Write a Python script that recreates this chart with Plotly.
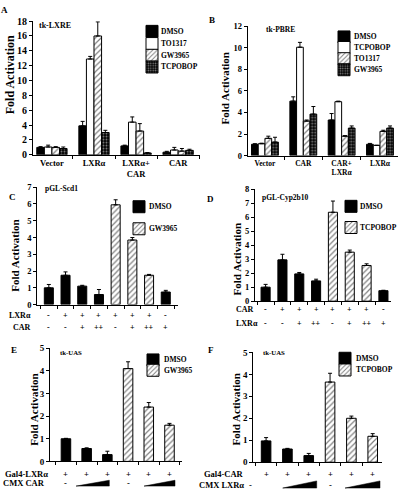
import plotly.graph_objects as go

W, H = 400, 496
SERIF = "Liberation Serif, Times New Roman, serif"

# ---------------- data ----------------
a_groups = ["Vector", "LXRα", "LXRα+<br>CAR", "CAR"]
a_dmso = [1.0, 3.9, 1.2, 0.35]
a_dmso_err = [0.1, 0.6, 0.1, 0.12]
a_to1317 = [1.05, 12.9, 4.4, 0.65]
a_to1317_err = [0.25, 0.35, 0.7, 0.35]
a_gw3965 = [1.0, 16.0, 3.2, 0.5]
a_gw3965_err = [0.1, 1.9, 1.0, 0.35]
a_tcpobop = [0.85, 3.0, 0.25, 0.6]
a_tcpobop_err = [0.2, 0.3, 0.05, 0.15]

b_groups = ["Vector", "CAR", "CAR+<br>LXRα", "LXRα"]
b_dmso = [1.05, 5.05, 3.3, 1.05]
b_dmso_err = [0.05, 0.4, 0.6, 0.08]
b_tcpobop = [1.1, 10.05, 5.0, 0.95]
b_tcpobop_err = [0.05, 0.45, 0.05, 0.0]
b_to1317 = [1.6, 3.2, 1.8, 2.25]
b_to1317_err = [0.2, 0.1, 0.05, 0.1]
b_gw3965 = [1.25, 3.85, 2.55, 2.55]
b_gw3965_err = [0.45, 0.7, 0.2, 0.2]

c_lanes = ["c1", "c2", "c3", "c4", "c5", "c6", "c7", "c8"]
c_dmso = [1.0, 1.75, 1.1, 0.6, None, None, None, 0.75]
c_dmso_err = [0.2, 0.2, 0.05, 0.3, 0, 0, 0, 0.1]
c_gw3965 = [None, None, None, None, 5.95, 3.85, 1.75, None]
c_gw3965_err = [0, 0, 0, 0, 0.3, 0.15, 0.05, 0]
c_row_lxr = ["-", "+", "+", "+", "+", "+", "+", "-"]
c_row_car = ["-", "-", "+", "++", "-", "+", "++", "+"]

d_lanes = ["d1", "d2", "d3", "d4", "d5", "d6", "d7", "d8"]
d_dmso = [1.0, 2.95, 1.95, 1.45, None, None, None, 0.75]
d_dmso_err = [0.2, 0.4, 0.1, 0.12, 0, 0, 0, 0.03]
d_tcpobop = [None, None, None, None, 6.35, 3.5, 2.55, None]
d_tcpobop_err = [0, 0, 0, 0, 0.8, 0.15, 0.12, 0]
d_row_car = ["-", "+", "+", "+", "+", "+", "+", "-"]
d_row_lxr = ["-", "-", "+", "++", "-", "+", "++", "+"]

e_lanes = ["e1", "e2", "e3", "e4", "e5", "e6"]
e_dmso = [1.0, 0.57, 0.3, None, None, None]
e_dmso_err = [0.02, 0.03, 0.15, 0, 0, 0]
e_gw3965 = [None, None, None, 4.1, 2.4, 1.6]
e_gw3965_err = [0, 0, 0, 0.3, 0.2, 0.08]
e_row_gal4 = ["+", "+", "+", "+", "+", "+"]

f_lanes = ["f1", "f2", "f3", "f4", "f5", "f6"]
f_dmso = [0.97, 0.6, 0.3, None, None, None]
f_dmso_err = [0.15, 0.03, 0.1, 0, 0, 0]
f_tcpobop = [None, None, None, 3.65, 2.0, 1.18]
f_tcpobop_err = [0, 0, 0, 0.4, 0.1, 0.12]
f_row_gal4 = ["+", "+", "+", "+", "+", "+"]

# ---------------- styles ----------------
LINE = dict(color="black", width=1)
SOLID = dict(color="black", line=LINE)
OPEN = dict(color="white", line=LINE)
HATCH = dict(color="white", line=LINE,
             pattern=dict(shape="/", fgcolor="black", bgcolor="white", size=4, solidity=0.3))
DOTS = dict(color="black", line=LINE,
            pattern=dict(shape=".", fgcolor="white", bgcolor="black", size=3, solidity=0.35))

fig = go.Figure()


def bars(x, y, err, xa, ya, marker, offset, width, legend):
    fig.add_trace(go.Bar(
        x=x, y=y, xaxis=xa, yaxis=ya, marker=marker, offset=offset, width=width,
        error_y=dict(type="data", array=err, arrayminus=[0] * len(err), symmetric=False,
                     color="black", thickness=1, width=2),
        name="", showlegend=True, legend=legend, hoverinfo="skip"))


# Panel A
wA = 0.18
for i, (v, e, m) in enumerate([(a_dmso, a_dmso_err, SOLID), (a_to1317, a_to1317_err, OPEN),
                               (a_gw3965, a_gw3965_err, HATCH), (a_tcpobop, a_tcpobop_err, DOTS)]):
    bars(a_groups, v, e, "x", "y", m, -2 * wA + i * wA, wA, "legend" if i == 0 else f"legend{i + 1}")
# Panel B
wB = 0.175
for i, (v, e, m) in enumerate([(b_dmso, b_dmso_err, SOLID), (b_tcpobop, b_tcpobop_err, OPEN),
                               (b_to1317, b_to1317_err, HATCH), (b_gw3965, b_gw3965_err, DOTS)]):
    bars(b_groups, v, e, "x2", "y2", m, -2 * wB + i * wB, wB, f"legend{i + 5}")
# Panel C-F
bars(c_lanes, c_dmso, c_dmso_err, "x3", "y3", SOLID, -0.27, 0.54, "legend9")
bars(c_lanes, c_gw3965, c_gw3965_err, "x3", "y3", HATCH, -0.27, 0.54, "legend10")
bars(d_lanes, d_dmso, d_dmso_err, "x4", "y4", SOLID, -0.27, 0.54, "legend11")
bars(d_lanes, d_tcpobop, d_tcpobop_err, "x4", "y4", HATCH, -0.27, 0.54, "legend12")
bars(e_lanes, e_dmso, e_dmso_err, "x5", "y5", SOLID, -0.23, 0.46, "legend13")
bars(e_lanes, e_gw3965, e_gw3965_err, "x5", "y5", HATCH, -0.23, 0.46, "legend14")
bars(f_lanes, f_dmso, f_dmso_err, "x6", "y6", SOLID, -0.225, 0.45, "legend15")
bars(f_lanes, f_tcpobop, f_tcpobop_err, "x6", "y6", HATCH, -0.225, 0.45, "legend16")


def xax(px0, px1, rng, anchor, cats, labels, fs):
    return dict(domain=[px0 / W, px1 / W], range=rng, anchor=anchor, type="category",
                categoryorder="array", categoryarray=cats, showline=True, linecolor="black",
                linewidth=1, ticks="outside", ticklen=3, tickcolor="black", tickson="boundaries",
                showgrid=False, zeroline=False, showticklabels=labels, fixedrange=True,
                tickfont=dict(family=SERIF, size=fs, color="black", weight="bold"))


def yax(pybot, pytop, rng, dtick, anchor, fs):
    return dict(domain=[1 - pybot / H, 1 - pytop / H], range=rng, dtick=dtick, anchor=anchor,
                showline=True, linecolor="black", linewidth=1, ticks="outside", ticklen=3,
                tickcolor="black", showgrid=False, zeroline=False, fixedrange=True,
                tickfont=dict(family=SERIF, size=fs, color="black", weight="bold"))


def leg(cx, cy):
    return dict(x=(cx - 20) / W, y=1 - cy / H, xanchor="left", yanchor="middle",
                bgcolor="rgba(0,0,0,0)", borderwidth=0, font=dict(size=8), itemwidth=30,
                itemclick=False, itemdoubleclick=False)


layout = dict(
    width=W, height=H, margin=dict(l=0, r=0, t=0, b=0),
    paper_bgcolor="white", plot_bgcolor="white", barmode="overlay",
    font=dict(family=SERIF, color="black"),
    xaxis=xax(33, 200, [-0.45, 3.52], "y", a_groups, True, 8.5),
    yaxis=yax(152.5, 15.5, [0, 18], 2, "x", 10),
    xaxis2=xax(247.7, 398, [-0.45, 3.47], "y2", b_groups, True, 7.5),
    yaxis2=yax(153.3, 20.7, [0, 12], 2, "x2", 8.5),
    xaxis3=xax(37.3, 178.3, [-0.69, 7.75], "y3", c_lanes, False, 8),
    yaxis3=yax(306, 185.7, [0, 7], 1, "x3", 8.5),
    xaxis4=xax(255, 391, [-0.63, 7.45], "y4", d_lanes, False, 8),
    yaxis4=yax(302.5, 187.7, [0, 8], 1, "x4", 8.5),
    xaxis5=xax(50, 181.7, [-0.77, 5.59], "y5", e_lanes, False, 8),
    yaxis5=yax(466.7, 350.7, [0, 5], 1, "x5", 9),
    xaxis6=xax(253.3, 382.3, [-0.6, 5.45], "y6", f_lanes, False, 8),
    yaxis6=yax(467.5, 355, [0, 5], 1, "x6", 9),
)

legend_pos = [(152, 26), (152, 38.5), (152, 50.5), (152, 62.5),
              (344, 31.7), (344, 42.5), (344, 54), (344, 65.3),
              (139, 205.7), (139, 228.3),
              (351, 205.3), (351, 227),
              (153, 362.7), (153, 373.3),
              (345, 361), (345, 373)]
for k, (cx, cy) in enumerate(legend_pos):
    layout["legend" if k == 0 else f"legend{k + 1}"] = leg(cx, cy)

fig.update_layout(**layout)

ann = []


def txt(x, y, s, size, xanchor="left", xref="paper", angle=0):
    xx = x / W if xref == "paper" else x
    ann.append(dict(x=xx, y=1 - y / H, xref=xref, yref="paper", text=s, showarrow=False,
                    xanchor=xanchor, yanchor="middle", textangle=angle,
                    font=dict(family=SERIF, size=size, color="black", weight="bold")))


# legend labels
leg_labels = [("DMSO", 159.3, 26), ("TO1317", 159.3, 38.5), ("GW3965", 159.3, 50.5), ("TCPOBOP", 159.3, 62.5),
              ("DMSO", 351.7, 31.7), ("TCPOBOP", 351.7, 42.5), ("TO1317", 351.7, 54), ("GW3965", 351.7, 65.3),
              ("DMSO", 146.7, 205.7), ("GW3965", 146.7, 228.3),
              ("DMSO", 358.3, 205.3), ("TCPOBOP", 358.3, 227),
              ("DMSO", 162.3, 362.7), ("GW3965", 162.3, 373.3),
              ("DMSO", 354, 361), ("TCPOBOP", 354, 373)]
for s, x, y in leg_labels:
    txt(x, y, s, 7.5)

# panel letters
for s, x, y in [("A", 4.5, 4), ("B", 212, 14), ("C", 12.5, 196), ("D", 210, 198),
                ("E", 14, 353), ("F", 211, 353)]:
    txt(x, y, s, 9, xanchor="center")

# y titles
for x, y, fs in [(10, 71, 12), (224.5, 85, 11), (15.5, 256.5, 11), (236.7, 260, 11),
                 (33.7, 414, 11), (235.5, 414, 11)]:
    txt(x, y, "Fold Activation", fs, xanchor="center", angle=-90)

# in-plot titles
for s, x, y, fs in [("tk-LXRE", 37, 20, 8), ("tk-PBRE", 264.3, 24, 7.5), ("pGL-Scd1", 42.7, 187.5, 7.5),
                    ("pGL-Cyp2b10", 260, 196, 7.5), ("tk-UAS", 58.3, 355.5, 6.8), ("tk-UAS", 260.7, 355.5, 6.8)]:
    txt(x, y, s, fs)

# tables below C-F
for i, s in enumerate(c_row_lxr):
    txt(i, 317.3, s, 8, xanchor="center", xref="x3")
for i, s in enumerate(c_row_car):
    txt(i, 329, s, 8, xanchor="center", xref="x3")
txt(32.5, 317.3, "LXRα", 8, xanchor="right")
txt(32.5, 329, "CAR", 8, xanchor="right")

for i, s in enumerate(d_row_car):
    txt(i, 311, s, 8, xanchor="center", xref="x4")
for i, s in enumerate(d_row_lxr):
    txt(i, 325, s, 8, xanchor="center", xref="x4")
txt(233.5, 311, "CAR", 8)
txt(233.5, 325, "LXRα", 8)

for i, s in enumerate(e_row_gal4):
    txt(i, 480, s, 8.5, xanchor="center", xref="x5")
txt(0, 489.3, "-", 8.5, xanchor="center", xref="x5")
txt(3, 489.3, "-", 8.5, xanchor="center", xref="x5")
txt(26, 480, "Gal4-LXRα", 8.5, xanchor="center")
txt(24, 489.3, "CMX CAR", 8.5, xanchor="center")

for i, s in enumerate(f_row_gal4):
    txt(i, 480, s, 8.5, xanchor="center", xref="x6")
txt(250, 491, "-", 8.5, xanchor="center")
txt(3, 491, "-", 8.5, xanchor="center", xref="x6")
txt(245.5, 480, "Gal4-CAR", 8.5, xanchor="right")
txt(245.5, 491, "CMX LXRα", 8.5, xanchor="right")

fig.update_layout(annotations=ann)

# wedges (increasing amount of co-transfected receptor)
shapes = []
for x0, x1, yb, yt in [(76, 109.3, 492, 486), (144, 175, 492, 486),
                       (282.7, 316.7, 494, 486.7), (345, 380, 494, 486.7)]:
    shapes.append(dict(type="path", xref="paper", yref="paper",
                       path=f"M{x0 / W},{1 - yb / H} L{x1 / W},{1 - yt / H} L{x1 / W},{1 - yb / H} Z",
                       fillcolor="black", line=dict(color="black", width=0.5)))
fig.update_layout(shapes=shapes)

fig.write_html("out.html", config={"displayModeBar": False},
               post_script="document.body.style.margin='0';document.body.style.padding='0';")
